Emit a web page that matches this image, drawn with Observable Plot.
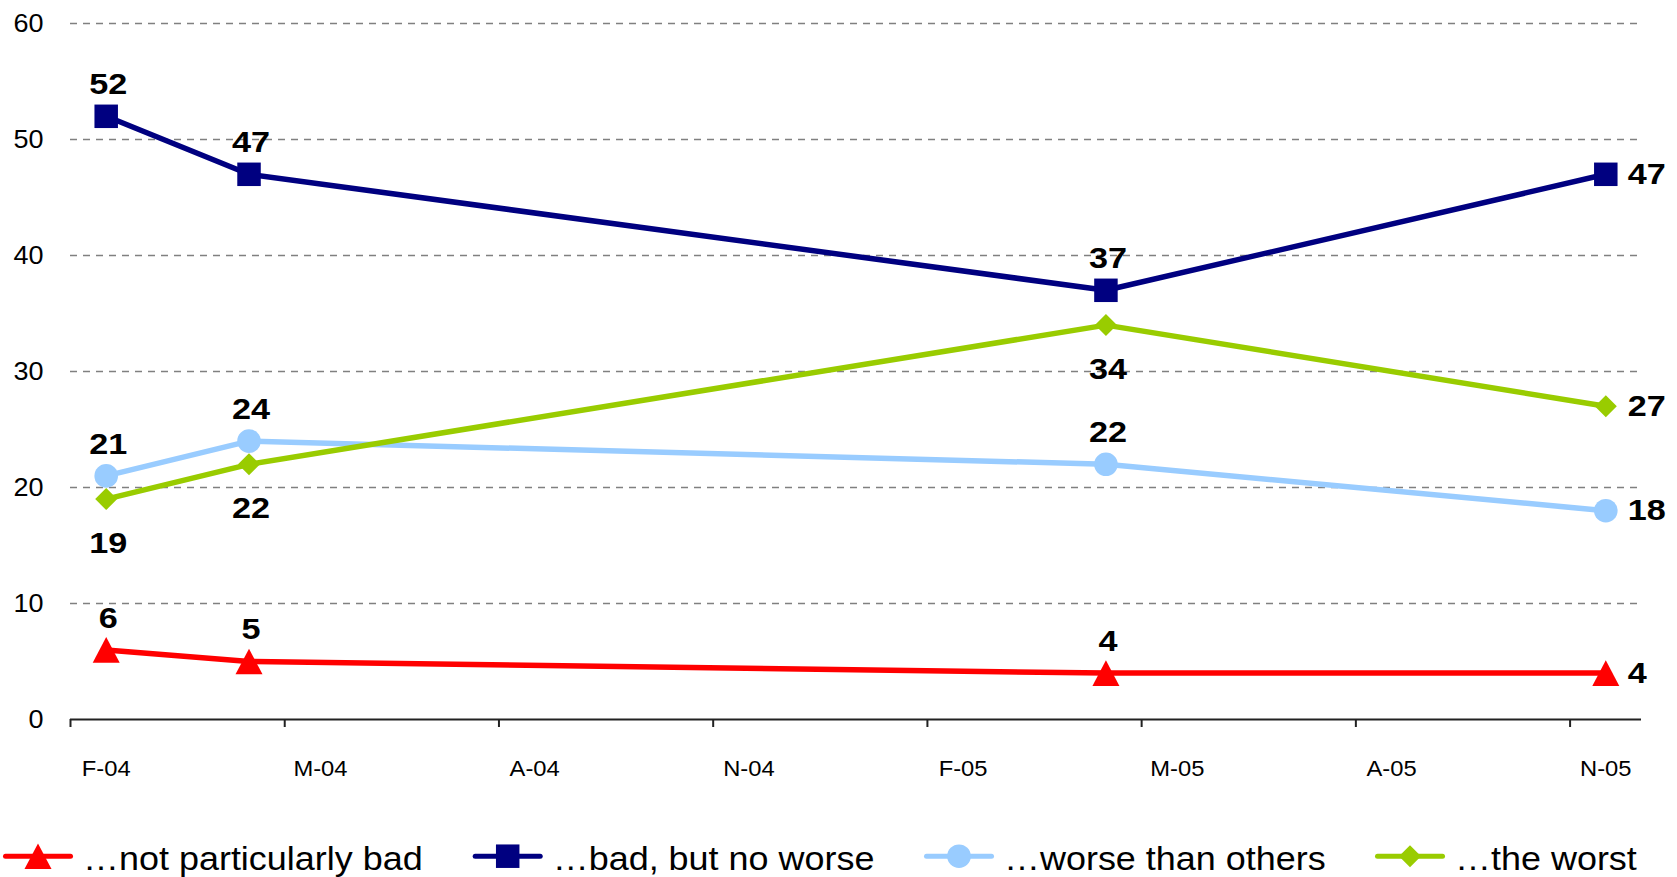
<!DOCTYPE html>
<html>
<head>
<meta charset="utf-8">
<script src="https://cdn.jsdelivr.net/npm/d3@7"></script>
<script src="https://cdn.jsdelivr.net/npm/@observablehq/plot@0.6"></script>
<style>
  html, body { margin: 0; padding: 0; background: #ffffff; }
  svg { display: block; }
</style>
</head>
<body>
<div id="chart"></div>
<script>
// ---- data ----
const surveyDates = ["2004-02", "2004-04", "2005-04", "2005-11"];
const seriesNames = ["…not particularly bad", "…bad, but no worse", "…worse than others", "…the worst"];
const notParticularlyBad = [6, 5, 4, 4];
const badButNoWorse = [52, 47, 37, 47];
const worseThanOthers = [21, 24, 22, 18];
const theWorst = [19, 22, 34, 27];
const tickLabels = ["F-04", "M-04", "A-04", "N-04", "F-05", "M-05", "A-05", "N-05"];
const yTicks = [0, 10, 20, 30, 40, 50, 60];
const seriesColors = ["#FF0000", "#000080", "#99CCFF", "#99CC00"];

const seriesValues = [notParticularlyBad, badButNoWorse, worseThanOthers, theWorst];
const fontFamily = '"Liberation Sans", Arial, Helvetica, sans-serif';
const stretch = 1.08;
const labelStretch = 1.14;

// months since Feb 2004
const monthIndex = s => { const [y, m] = s.split("-").map(Number); return (y - 2004) * 12 + (m - 2); };
const labelMonths = tickLabels.map((_, i) => i * 3);
const boundaryMonths = tickLabels.map((_, i) => i * 3 - 0.5);

// symbols (width = sqrt(size))
const triangle = {
  draw(ctx, size) {
    const w = Math.sqrt(size), h = w * 0.95;
    ctx.moveTo(0, -h / 2); ctx.lineTo(w / 2, h / 2); ctx.lineTo(-w / 2, h / 2); ctx.closePath();
  }
};
const symbols = [triangle, d3.symbolSquare, d3.symbolCircle, d3.symbolDiamond2];
const sp = Math.sqrt(Math.PI);
const radii = [27 / sp, 23.5 / sp, 11.8, (22 / 1.2525) / sp];

const rows = [];
seriesValues.forEach((vals, k) => {
  vals.forEach((v, i) => {
    rows.push({series: seriesNames[k], k, i, month: monthIndex(surveyDates[i]), value: v});
  });
});
const last = surveyDates.length - 1;
const placement = d => d.i === last ? "right" : (d.k === 3 ? "below" : "above");

const seriesMarks = [];
seriesNames.forEach((name, k) => {
  const data = rows.filter(d => d.k === k);
  seriesMarks.push(Plot.line(data, {x: "month", y: "value", stroke: seriesColors[k], strokeWidth: 5.5}));
  seriesMarks.push(Plot.dot(data, {x: "month", y: "value", symbol: symbols[k], r: radii[k], fill: seriesColors[k], stroke: "none"}));
});

const labelStyle = {x: "month", y: "value", text: d => String(d.value), fontSize: 30, fontWeight: "bold", fill: "#000", className: "value-label"};

const chart = Plot.plot({
  width: 1677,
  height: 820,
  marginLeft: 70,
  marginRight: 36,
  marginTop: 23,
  marginBottom: 101,
  style: {fontFamily, background: "#ffffff", color: "#000"},
  x: {domain: [-0.5, 21.5]},
  y: {domain: [0, 60]},
  marks: [
    Plot.gridY({ticks: yTicks.filter(t => t > 0), stroke: "#808080", strokeOpacity: 1, strokeWidth: 1.3, strokeDasharray: "7,6"}),
    Plot.axisY({ticks: yTicks, tickSize: 0, tickPadding: 27, fontSize: 25, label: null}),
    Plot.axisX({ticks: boundaryMonths, tickSize: 8, tickFormat: () => "", stroke: "#222", strokeWidth: 2, label: null}),
    Plot.axisX({ticks: labelMonths, tickSize: 0, tickPadding: 41, fontSize: 22, tickFormat: d => tickLabels[Math.round(d / 3)], label: null}),
    Plot.ruleY([0], {stroke: "#222", strokeWidth: 2}),
    ...seriesMarks,
    Plot.text(rows.filter(d => placement(d) === "above"), {...labelStyle, dy: -32, dx: 2}),
    Plot.text(rows.filter(d => placement(d) === "below"), {...labelStyle, dy: 44, dx: 2}),
    Plot.text(rows.filter(d => placement(d) === "right"), {...labelStyle, dx: 22, textAnchor: "start"})
  ]
});
// widen glyphs slightly about their anchor point, like the reference lettering
chart.querySelectorAll("text").forEach(t => {
  const tr = t.getAttribute("transform");
  const isValue = t.closest(".value-label") !== null;
  const s = isValue ? labelStretch : stretch;
  if (tr && tr.includes("translate")) t.setAttribute("transform", tr + ` scale(${s},1)`);
});
document.getElementById("chart").appendChild(chart);

// ---- legend below the chart ----
const legendX = [3, 472.7, 924, 1375];
const legend = d3.create("svg")
  .attr("width", 1677).attr("height", 57)
  .style("font-family", fontFamily);
seriesNames.forEach((name, k) => {
  const g = legend.append("g").attr("transform", `translate(${legendX[k]},0)`);
  g.append("line").attr("x1", 2.5).attr("x2", 67.5).attr("y1", 36.2).attr("y2", 36.2)
    .attr("stroke", seriesColors[k]).attr("stroke-width", 5).attr("stroke-linecap", "round");
  g.append("path").attr("transform", "translate(35,36.2)")
    .attr("d", d3.symbol().type(symbols[k]).size(Math.PI * radii[k] * radii[k])())
    .attr("fill", seriesColors[k]);
  g.append("text").attr("transform", "translate(80,49.5) scale(1.09,1)")
    .attr("font-size", 33).attr("fill", "#000").text(name);
});
document.getElementById("chart").appendChild(legend.node());
</script>
</body>
</html>
